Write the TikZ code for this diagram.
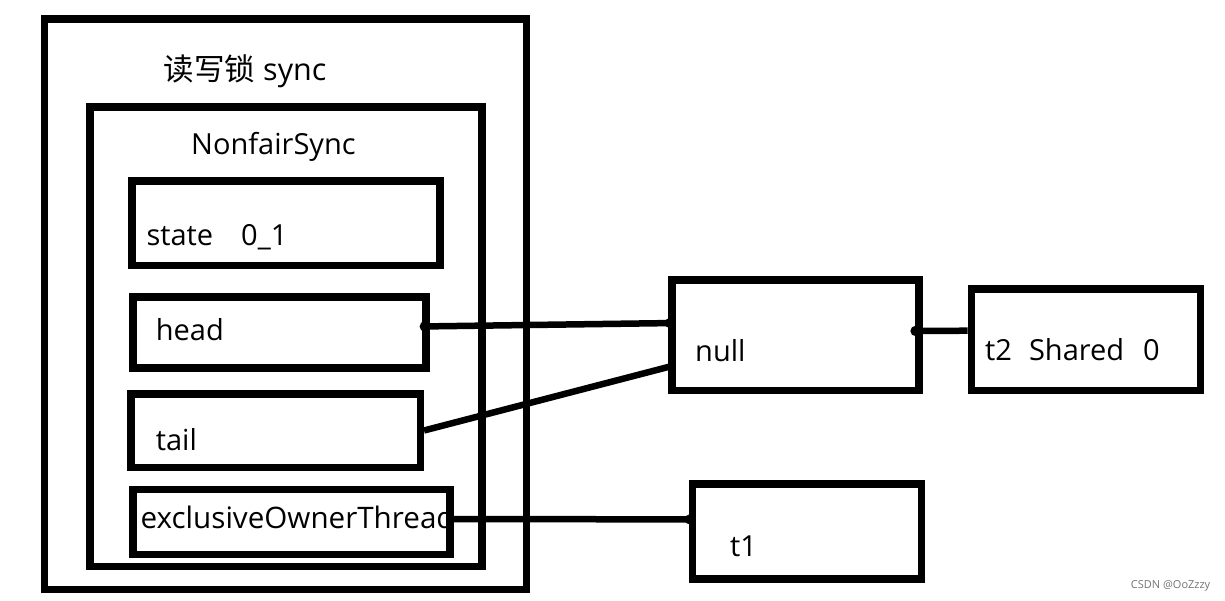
\documentclass[tikz,border=0pt]{standalone}
\usepackage{fontspec}
\setmainfont{Open Sans}
\newfontfamily\cjk{Noto Sans CJK SC}
\usetikzlibrary{calc}
\usetikzlibrary{arrows.meta}
\tikzstyle{boxnode} = [draw, rectangle, line width=7.5pt, inner sep=0pt]
\tikzstyle{textnode} = [anchor=base west, inner sep=0pt, font=\fontsize{29}{34}\selectfont]
\tikzstyle{linkline} = [line width=6.5pt]
\tikzstyle{dotend} = [-{Circle[length=10pt]}]
\tikzstyle{dotstart} = [{Circle[length=10pt]}-]
\tikzstyle{dotboth} = [{Circle[length=10pt]}-{Circle[length=10pt]}]

\begin{document}
\begin{tikzpicture}[x=1pt, y=-1pt]
\useasboundingbox (0,0) rectangle (1225,600);

% labels first, so the box border hides the cut end of the long one
\node[textnode, font=\fontsize{30.5}{36}\selectfont] (sync_label) at (163.6,80) {{\cjk 读写锁} sync};
\node[textnode] (nonfair_label) at (191,154) {NonfairSync};
\node[textnode] (state_label) at (146.3,245) {state\hspace{28pt}0\_1};
\node[textnode] (head_label) at (155.6,340) {head};
\node[textnode] (tail_label) at (155.6,450) {tail};
\node[textnode, font=\fontsize{29.6}{34}\selectfont] (owner_label) at (140.5,528.3) {exclusiveOwnerThread};
\node[textnode] (null_label) at (695,361) {null};
\node[textnode] (t2_label) at (985,360) {t2\hspace{17pt}Shared\hspace{19pt}0};
\node[textnode] (t1_label) at (730,556) {t1};

% boxes
\node[boxnode, minimum width=481.9pt, minimum height=570.8pt] (sync_box) at (285.3,304.2) {};
\node[boxnode, minimum width=392pt, minimum height=459.2pt] (nonfair_box) at (285.8,336.7) {};
\node[boxnode, minimum width=308pt, minimum height=84.5pt] (state_box) at (285.8,223.3) {};
\node[boxnode, minimum width=293.3pt, minimum height=70.9pt] (head_box) at (279.4,332.5) {};
\node[boxnode, minimum width=289.1pt, minimum height=73.5pt] (tail_box) at (275.7,430.5) {};
\node[boxnode, minimum width=317.4pt, minimum height=65.1pt] (owner_box) at (291.5,522) {};
\node[boxnode, minimum width=247pt, minimum height=110.5pt] (null_box) at (795.3,335) {};
\node[boxnode, minimum width=228.9pt, minimum height=101.8pt] (t2_box) at (1085.8,339.7) {};
\node[boxnode, minimum width=229.4pt, minimum height=95.2pt] (t1_box) at (807,531.4) {};

% links
\draw[linkline, dotboth] ($(head_box.east)+(-10,-6)$) -- ($(null_box.west)+(7,-12)$);
\draw[linkline] (tail_box.east) -- ($(null_box.west)+(4,31)$);
\draw[linkline, dotstart] ($(null_box.east)+(-12,-4)$) -- ($(t2_box.west)+(0,-9)$);
\draw[linkline, dotend] ($(owner_box.east)+(-6,-3)$) -- ($(t1_box.west)+(6.5,-12)$);

\node[anchor=base west, inner sep=0pt, text=black!55, font=\fontsize{11}{13}\selectfont] (mark) at (1130.7,588) {CSDN @OoZzzy};
\end{tikzpicture}
\end{document}
